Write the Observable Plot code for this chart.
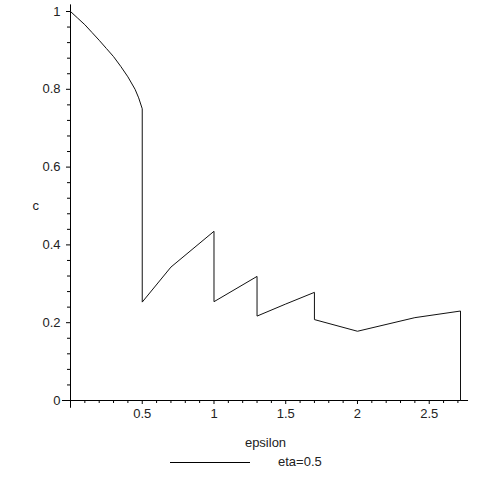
<!DOCTYPE html>
<html>
<head>
<meta charset="utf-8">
<script src="https://cdn.jsdelivr.net/npm/d3@7"></script>
<script src="https://cdn.jsdelivr.net/npm/@observablehq/plot@0.6"></script>
<style>
  html, body { margin: 0; padding: 0; background: #fff; }
  body { width: 491px; height: 491px; overflow: hidden; font-family: "Liberation Sans", Arial, sans-serif; }
  #legend { position: relative; height: 24px; font-size: 13px; color: #222; }
  #legend .line { position: absolute; left: 170px; top: 10px; width: 80px; border-top: 1px solid #000; }
  #legend .lab { position: absolute; left: 278px; top: 2px; }
</style>
</head>
<body>
<div id="chart"></div>
<div id="legend"><span class="line"></span><span class="lab"></span></div>
<script>
const epsilon = [0, 0.05, 0.1, 0.15, 0.2, 0.25, 0.3, 0.35, 0.4, 0.45, 0.475, 0.5, 0.5, 0.7, 1.0, 1.0, 1.3, 1.3, 1.5, 1.7, 1.7, 2.0, 2.4, 2.718, 2.718];
const cValues = [1, 0.983, 0.966, 0.946, 0.926, 0.905, 0.884, 0.859, 0.832, 0.80, 0.778, 0.75, 0.253, 0.343, 0.435, 0.254, 0.319, 0.217, 0.248, 0.278, 0.208, 0.178, 0.213, 0.23, 0];
const xMajorTicks = [0.5, 1, 1.5, 2, 2.5];
const xMinorTicks = [0.1, 0.2, 0.3, 0.4, 0.6, 0.7, 0.8, 0.9, 1.1, 1.2, 1.3, 1.4, 1.6, 1.7, 1.8, 1.9, 2.1, 2.2, 2.3, 2.4, 2.6, 2.7];
const yMajorTicks = [0, 0.2, 0.4, 0.6, 0.8, 1];
const yMinorTicks = [0.04, 0.08, 0.12, 0.16, 0.24, 0.28, 0.32, 0.36, 0.44, 0.48, 0.52, 0.56, 0.64, 0.68, 0.72, 0.76, 0.84, 0.88, 0.92, 0.96];
const xLabel = "epsilon";
const yLabel = "c";
const legendLabel = "eta=0.5";

const data = epsilon.map((e, i) => ({epsilon: e, c: cValues[i]}));

const chart = Plot.plot({
  width: 491,
  height: 452,
  marginLeft: 70,
  marginRight: 31,
  marginTop: 11,
  marginBottom: 52,
  style: {fontFamily: "Liberation Sans, Arial, sans-serif", fontSize: "13px", color: "#222", background: "#fff"},
  x: {domain: [0, 2.718]},
  y: {domain: [0, 1]},
  marks: [
    Plot.ruleY([0], {x1: -0.056, x2: 2.774, stroke: "#000", strokeWidth: 1}),
    Plot.ruleX([0], {y1: -0.02, y2: 1.017, stroke: "#000", strokeWidth: 1}),
    Plot.axisX(xMinorTicks, {anchor: "bottom", tickSize: 3, tickFormat: () => "", label: null, stroke: "#000"}),
    Plot.axisX(xMajorTicks, {anchor: "bottom", tickSize: 4, tickPadding: 4, tickFormat: d => String(d), label: null, stroke: "#000", fill: "#222"}),
    Plot.axisY(yMinorTicks, {anchor: "left", tickSize: 3, tickFormat: () => "", label: null, stroke: "#000"}),
    Plot.axisY(yMajorTicks, {anchor: "left", tickSize: 4, tickPadding: 6, tickFormat: d => String(d), label: null, stroke: "#000", fill: "#222"}),
    Plot.line(data, {x: "epsilon", y: "c", stroke: "#111", strokeWidth: 1}),
    Plot.text([xLabel], {frameAnchor: "bottom", dy: 46, fill: "#222", fontSize: 13}),
    Plot.text([yLabel], {frameAnchor: "left", dx: -38, fill: "#222", fontSize: 13})
  ]
});
document.getElementById("chart").appendChild(chart);
document.querySelector("#legend .lab").textContent = legendLabel;
</script>
</body>
</html>
